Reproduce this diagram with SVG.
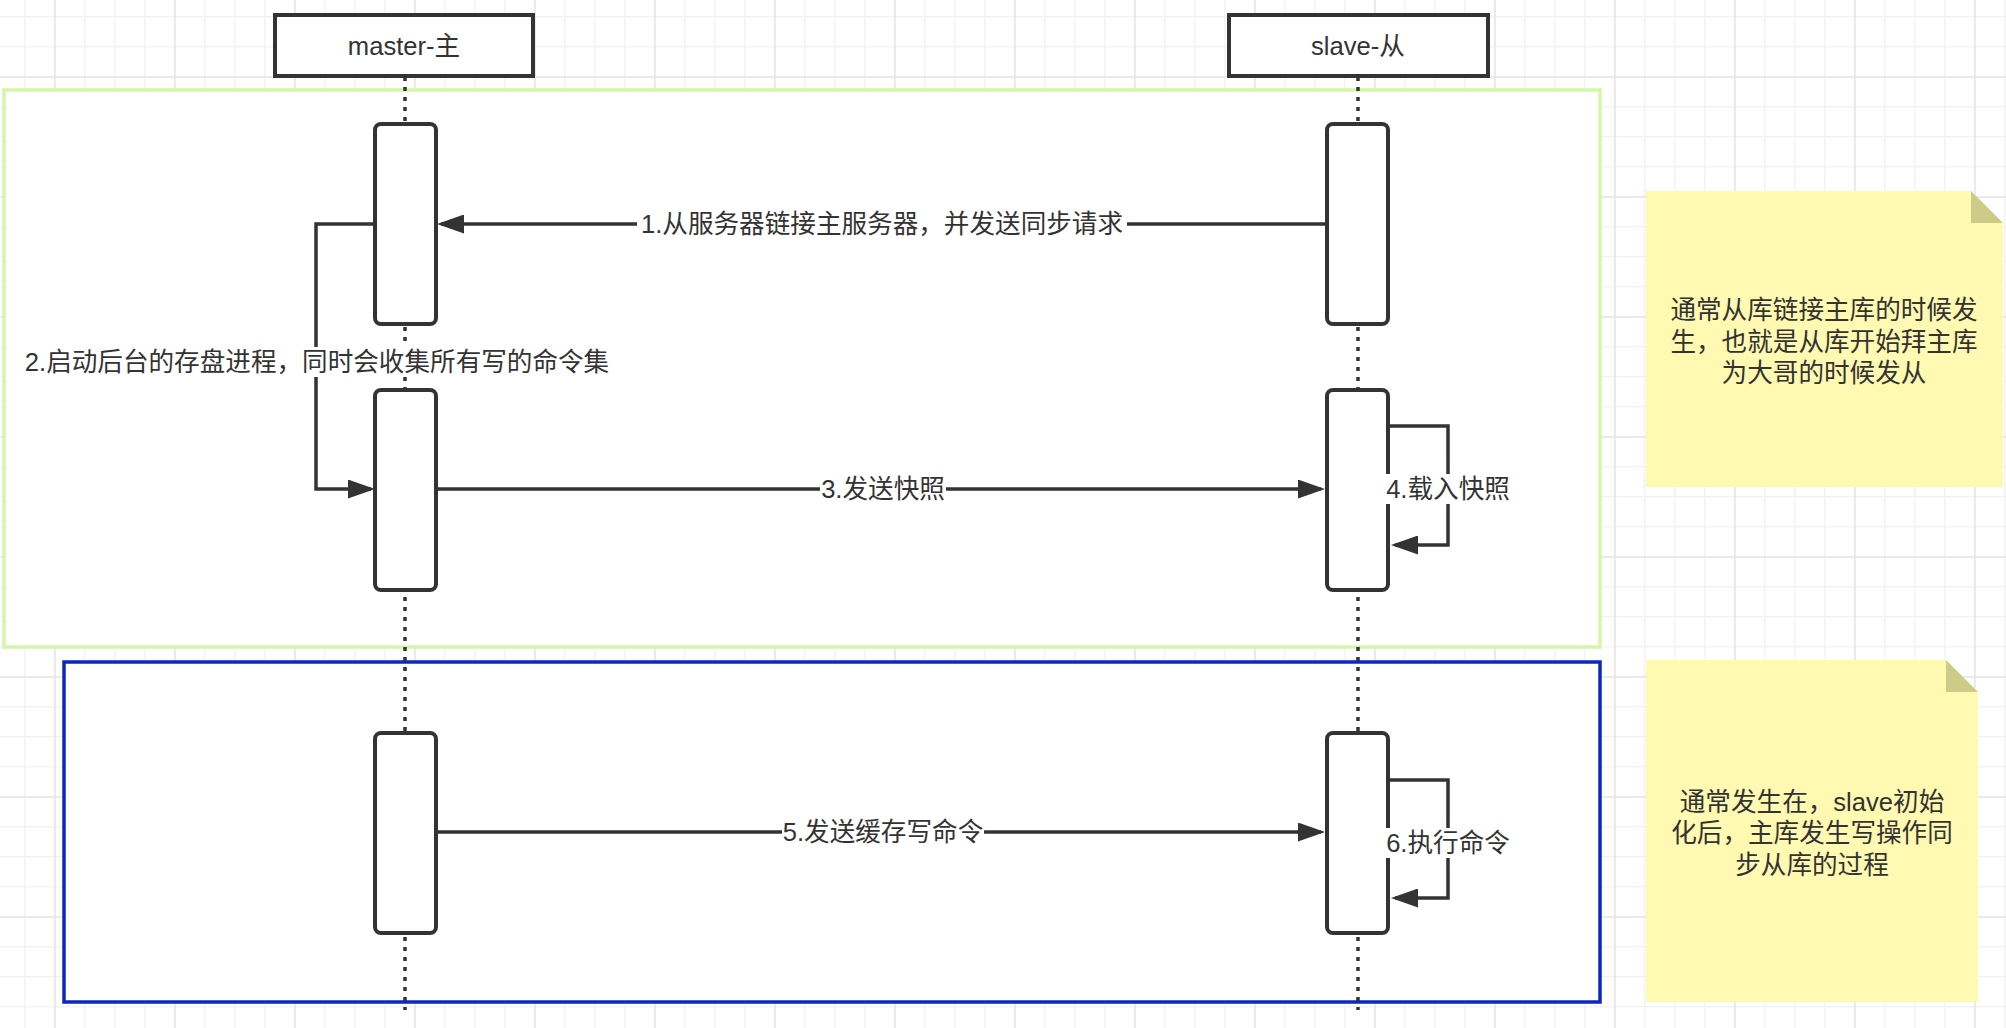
<svg xmlns="http://www.w3.org/2000/svg" width="2006" height="1028" viewBox="0 0 2006 1028">
<style>
  .hdr { fill: #ffffff; stroke: #333333; stroke-width: 4; }
  .act { fill: #ffffff; stroke: #333333; stroke-width: 4; }
  .life { fill: none; stroke: #333333; stroke-width: 3.5; stroke-dasharray: 4 6; }
  .msg { fill: none; stroke: #333333; stroke-width: 3.5; marker-end: url(#arr); }
  .lbl { font-family: "Liberation Sans", "Noto Sans CJK SC", sans-serif; font-size: 25.6px; fill: #333333; text-anchor: middle; dominant-baseline: central; }
  .bg { fill: #ffffff; }
  .note { fill: #fff9b1; }
  .fold { fill: #cccb88; }
</style>
<defs>
  <pattern id="gmin" patternUnits="userSpaceOnUse" x="24" y="16" width="30" height="30">
    <rect x="0" y="0" width="30" height="1.5" fill="#f3f3f3"/>
    <rect x="0" y="0" width="1.5" height="30" fill="#f3f3f3"/>
  </pattern>
  <pattern id="gmaj" patternUnits="userSpaceOnUse" x="54" y="76" width="120" height="120">
    <rect x="0" y="0" width="120" height="1.8" fill="#e8e8e8"/>
    <rect x="0" y="0" width="1.8" height="120" fill="#e8e8e8"/>
  </pattern>
  <marker id="arr" markerUnits="userSpaceOnUse" viewBox="0 0 27 19" refX="23" refY="9.5" markerWidth="27" markerHeight="19" orient="auto">
    <path d="M0,0 L27,9.5 L0,19 z" fill="#333333"/>
  </marker>
</defs>

<rect x="0" y="0" width="2006" height="1028" fill="#ffffff"/>
<rect x="0" y="0" width="2006" height="1028" fill="url(#gmin)"/>
<rect x="0" y="0" width="2006" height="1028" fill="url(#gmaj)"/>

<g id="group-full-sync">
  <rect x="4" y="90" width="1596" height="557" fill="#ffffff" stroke="#d4f7a6" stroke-width="3.5"/>
</g>
<g id="group-command-sync">
  <rect x="64" y="662" width="1536" height="340" fill="#ffffff" stroke="#0b27c0" stroke-width="3.5"/>
</g>

<g id="lifelines">
  <line class="life" x1="405" y1="77" x2="405" y2="1010"/>
  <line class="life" x1="1358" y1="77" x2="1358" y2="1010"/>
</g>

<g id="master">
  <rect class="hdr" x="275" y="15" width="258" height="61"/>
  <text class="lbl" x="404" y="46">master-主</text>
</g>
<g id="slave">
  <rect class="hdr" x="1229" y="15" width="259" height="61"/>
  <text class="lbl" x="1358" y="46">slave-从</text>
</g>

<g id="master-act-1"><rect class="act" x="375" y="124" width="61" height="200" rx="6"/></g>
<g id="master-act-2"><rect class="act" x="375" y="390" width="61" height="200" rx="6"/></g>
<g id="master-act-3"><rect class="act" x="375" y="733" width="61" height="200" rx="6"/></g>
<g id="slave-act-1"><rect class="act" x="1327" y="124" width="61" height="200" rx="6"/></g>
<g id="slave-act-2"><rect class="act" x="1327" y="390" width="61" height="200" rx="6"/></g>
<g id="slave-act-3"><rect class="act" x="1327" y="733" width="61" height="200" rx="6"/></g>

<g id="connectors">
  <path class="msg" d="M1325,224 H441"/>
  <path class="msg" d="M373,224 H316 V489 H371"/>
  <path class="msg" d="M438,489 H1321"/>
  <path class="msg" d="M1390,426 H1448 V545 H1395"/>
  <path class="msg" d="M438,832 H1321"/>
  <path class="msg" d="M1390,780 H1448 V898 H1395"/>

  <rect class="bg" x="637" y="209" width="490" height="30"/>
  <text class="lbl" x="882" y="224">1.从服务器链接主服务器，并发送同步请求</text>
  <rect class="bg" x="21" y="347" width="593" height="30"/>
  <text class="lbl" x="317" y="362">2.启动后台的存盘进程，同时会收集所有写的命令集</text>
  <rect class="bg" x="820" y="474" width="126" height="30"/>
  <text class="lbl" x="883" y="489">3.发送快照</text>
  <rect class="bg" x="1386" y="474" width="124" height="30"/>
  <text class="lbl" x="1448" y="489">4.载入快照</text>
  <rect class="bg" x="782" y="817" width="202" height="30"/>
  <text class="lbl" x="883" y="832">5.发送缓存写命令</text>
  <rect class="bg" x="1386" y="828" width="124" height="30"/>
  <text class="lbl" x="1448" y="843">6.执行命令</text>
</g>

<g id="note-1">
  <path class="note" d="M1646,191 H1971 L2003,223 V487 H1646 Z"/>
  <path class="fold" d="M1971,191 L2003,223 H1971 Z"/>
  <text class="lbl" x="1824" y="310">通常从库链接主库的时候发</text>
  <text class="lbl" x="1824" y="342">生，也就是从库开始拜主库</text>
  <text class="lbl" x="1824" y="373">为大哥的时候发从</text>
</g>
<g id="note-2">
  <path class="note" d="M1646,660 H1946 L1978,692 V1002 H1646 Z"/>
  <path class="fold" d="M1946,660 L1978,692 H1946 Z"/>
  <text class="lbl" x="1812" y="802">通常发生在，slave初始</text>
  <text class="lbl" x="1812" y="833">化后，主库发生写操作同</text>
  <text class="lbl" x="1812" y="865">步从库的过程</text>
</g>
</svg>
